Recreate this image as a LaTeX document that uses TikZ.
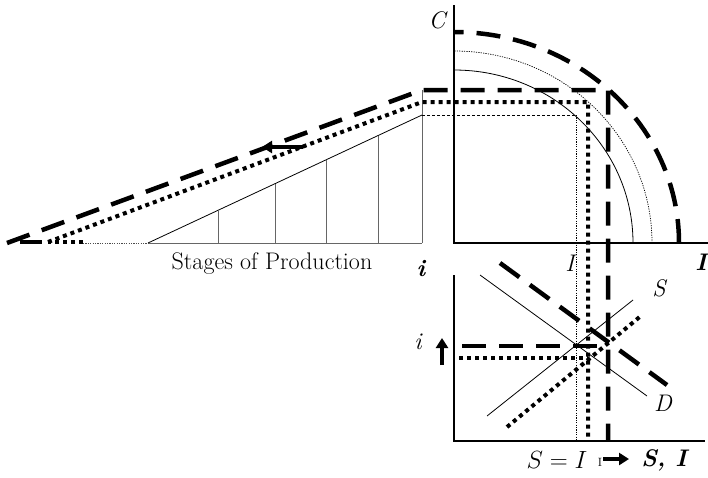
\documentclass[tikz,border=0pt]{standalone}
\usetikzlibrary{arrows.meta}
\begin{document}
\begin{tikzpicture}[x=1pt,y=-1pt,
  axis/.style={line width=1.2pt,black},
  thinline/.style={line width=0.8pt,black},
  greyline/.style={line width=1pt,black!60},
  bigdash/.style={line width=4.5pt,dash pattern=on 24pt off 13pt},
  bigdot/.style={line width=4pt,dash pattern=on 4pt off 4pt},
  finedot/.style={line width=0.7pt,dash pattern=on 1.2pt off 1.2pt},
  finedash/.style={line width=0.7pt,dash pattern=on 3pt off 2pt},
  fatarrow/.style={line width=3.5pt,-{Triangle[length=10pt,width=12pt]}},
  lab/.style={inner sep=0pt,font=\fontsize{24}{28}\selectfont\itshape},
  blab/.style={inner sep=0pt,font=\fontsize{24}{28}\selectfont\bfseries\itshape}]
\useasboundingbox (0,0) rectangle (708,477);
% key coordinates
\coordinate (O) at (454,243);
\coordinate (Ctop) at (454,5);
\coordinate (Iend) at (708,243);
\coordinate (O2) at (454,441);
\coordinate (i2top) at (454,275);
\coordinate (SIend) at (705,441);
% upper right axes
\draw[axis] (Ctop) -- (O) -- (Iend);
% lower right axes
\draw[axis] (i2top) -- (O2) -- (SIend);
% quarter circles
\draw[thinline] (633,243) arc[start angle=0,end angle=-90,x radius=179,y radius=173];
\draw[finedot] (652,243) arc[start angle=0,end angle=-90,x radius=198,y radius=192];
\draw[bigdash] (679,243) arc[start angle=0,end angle=-90,x radius=225,y radius=211];
% left triangle
\coordinate (T0) at (148,243);
\coordinate (T1) at (422,115);
\coordinate (B1) at (422,243);
\draw[greyline] (T0) -- (B1);
\draw[thinline] (T0) -- (T1);
\draw[greyline] (422,90) -- (B1);
\foreach \x in {218,275,326,378}{
  \draw[greyline] (\x,243) -- (\x,{243-(\x-148)/274*128});
}
\draw[finedot,black!70] (83,243) -- (T0);
% thin dashed rectangle path
\draw[finedash] (T1) -- (576,115);
\draw[finedot] (576,115) -- (576,441);
% thick dashed path
\draw[bigdash] (7,243) -- (422,90) -- (608,90) -- (608,441);
\draw[line width=4.5pt] (20,242) -- (42,242);
% thick dotted path
\draw[bigdot] (83,242) -- (48,242);
\draw[bigdot] (48,242) -- (422,102) -- (588,102) -- (588,441);
% arrow on slope
\draw[fatarrow] (303,147) -- (262,147);
% lower panel lines
\draw[thinline] (480,275) -- (647,396);
\draw[thinline] (487,416) -- (633,300);
\draw[bigdash] (500,263) -- (667,385);
\draw[bigdot] (507,427) -- (642,315);
\draw[bigdash] (462,346) -- (608,346);
\draw[bigdot] (459,358) -- (588,358);
% arrows in lower panel
\draw[fatarrow] (442,365) -- (442,338);
\draw[fatarrow] (603,459) -- (629,459);
% labels
\node[lab] (lC) at (437,20) {C};
\node[blab] (lIb) at (701,262) {I};
\node[lab] (lI) at (570,263) {I};
\node[blab] (lib) at (421,269) {i};
\node[lab] (li) at (418,342) {i};
\node[lab] (lS) at (659,288) {S};
\node[lab] (lD) at (663,403) {D};
\node[inner sep=0pt,font=\fontsize{24}{28}\selectfont] (lstage) at (272,264) {Stages of Production};
\node[inner sep=0pt,font=\fontsize{24}{28}\selectfont] (lSI) at (557,460) {$S = I$};
\node[lab,font=\fontsize{12}{13}\selectfont] (lsmall) at (600,462) {I};
\node[blab] (lSIb) at (664,460) {S, I};
\end{tikzpicture}
\end{document}
